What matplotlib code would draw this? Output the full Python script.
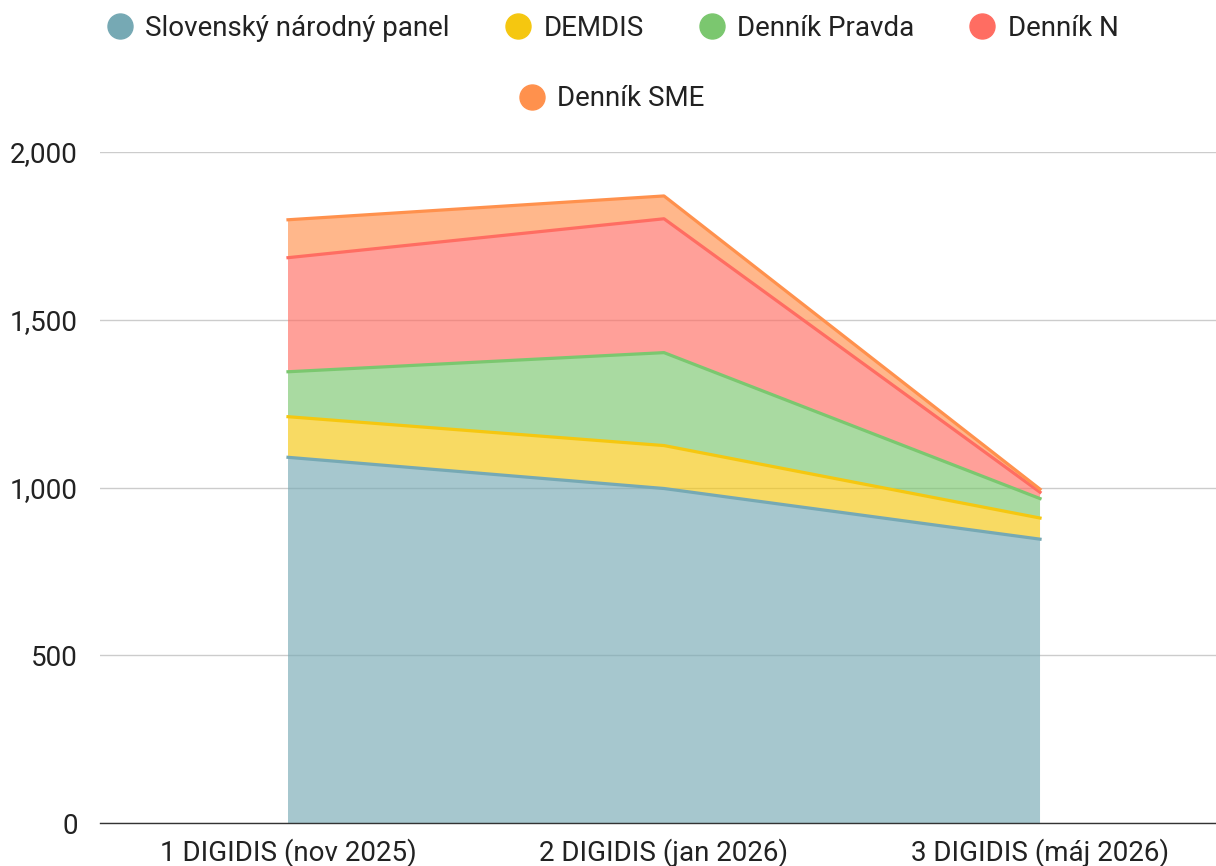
import numpy as np
import matplotlib.pyplot as plt
from matplotlib.lines import Line2D

plt.rcParams['font.family'] = ['Roboto', 'DejaVu Sans']

categories = ['1 DIGIDIS (nov 2025)', '2 DIGIDIS (jan 2026)', '3 DIGIDIS (máj 2026)']
series_names = ['Slovenský národný panel', 'DEMDIS', 'Denník Pravda', 'Denník N', 'Denník SME']
slovensky = [1090, 997, 846]
demdis = [121, 128, 63]
pravda = [134, 277, 58]
dennik_n = [340, 399, 19]
sme = [113, 68, 9]
colors = ['#76a9b4', '#f5c710', '#7bc76f', '#ff6d62', '#ff914d']

values = np.array([slovensky, demdis, pravda, dennik_n, sme])
x = np.arange(len(categories))

fig = plt.figure(figsize=(12.16, 8.66), dpi=100)
ax = fig.add_axes([100 / 1216, 1 - 823 / 866, 1 - 100 / 1216, (823 - 152) / 866])

ax.stackplot(x, values, colors=colors, alpha=0.65, linewidth=0)
cum = np.cumsum(values, axis=0)
for top, c in zip(cum, colors):
    ax.plot(x, top, color=c, linewidth=2.3, solid_joinstyle='round', zorder=3)

ax.set_xlim(-0.5, 2.468)
ax.set_ylim(0, 2000)
ax.set_yticks([0, 500, 1000, 1500, 2000])
ax.set_yticklabels(['0', '500', '1,000', '1,500', '2,000'])
ax.set_xticks(x)
ax.set_xticklabels(categories)
ax.tick_params(axis='both', length=0, labelsize=20, labelcolor='#222222')
ax.tick_params(axis='y', pad=16)
ax.tick_params(axis='x', pad=11)
ax.grid(axis='y', color='#cccccc', linewidth=1)
ax.set_axisbelow(True)
for s in ['top', 'right', 'left']:
    ax.spines[s].set_visible(False)
ax.spines['bottom'].set_color('#333333')
ax.spines['bottom'].set_linewidth(1)

def handle(c):
    return Line2D([], [], marker='o', linestyle='none', markersize=18,
                  markerfacecolor=c, markeredgecolor=c)

leg_kw = dict(frameon=False, fontsize=20, handlelength=0.9, handletextpad=0.47,
              columnspacing=2.0, borderaxespad=0, labelcolor='#222222')
fig.legend([handle(c) for c in colors[:4]], series_names[:4], ncol=4,
           loc='center', bbox_to_anchor=(613 / 1216, 1 - 28 / 866), **leg_kw)
fig.legend([handle(colors[4])], series_names[4:], ncol=1,
           loc='center', bbox_to_anchor=(612 / 1216, 1 - 99 / 866), **leg_kw)

fig.savefig('out.png', dpi=100)
